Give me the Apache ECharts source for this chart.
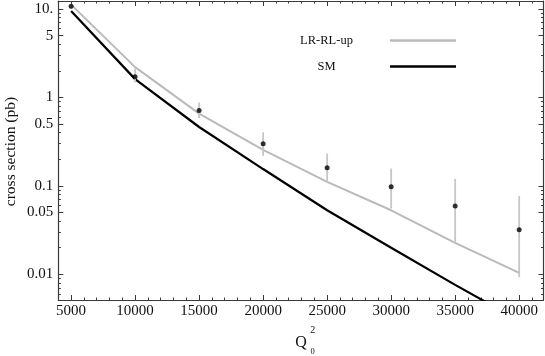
<!DOCTYPE html>
<html>
<head>
<meta charset="utf-8">
<script src="https://cdn.jsdelivr.net/npm/echarts@6/dist/echarts.min.js"></script>
<style>
html,body{margin:0;padding:0;background:#fff;}
#chart{width:545px;height:356px;}
</style>
</head>
<body>
<div id="chart"></div>
<script>
// ---- data ----
const q2Values = [5000, 10000, 15000, 20000, 25000, 30000, 35000, 40000];
const lrRlUp = [11.2, 2.2, 0.655, 0.256, 0.111, 0.053, 0.0227, 0.0104];
const smValues = [9.5, 1.61, 0.463, 0.155, 0.053, 0.020, 0.0076, 0.0030];
const dataCentral = [10.7, 1.71, 0.713, 0.30, 0.160, 0.0975, 0.0594, 0.0319];
const errHigh = [11.4, 2.12, 0.878, 0.403, 0.232, 0.157, 0.12, 0.077];
const errLow = [10.0, 1.48, 0.585, 0.219, 0.111, 0.0556, 0.0227, 0.0093];
const xTickValues = [5000, 10000, 15000, 20000, 25000, 30000, 35000, 40000];
const xMinorTickValues = [4000,6000,7000,8000,9000,11000,12000,13000,14000,16000,17000,18000,19000,21000,22000,23000,24000,26000,27000,28000,29000,31000,32000,33000,34000,36000,37000,38000,39000,41000];
const yTickValues = [10, 5, 1, 0.5, 0.1, 0.05, 0.01];
const yTickLabels = ['10.', '5', '1', '0.5', '0.1', '0.05', '0.01'];
const yMinorTickValues = [0.006,0.007,0.008,0.009,0.02,0.03,0.04,0.06,0.07,0.08,0.09,0.2,0.3,0.4,0.6,0.7,0.8,0.9,2,3,4,6,7,8,9];

const X_MIN = 4000, X_MAX = 41900, Y_MIN = 0.00513, Y_MAX = 12.3;
const FONT = '"Liberation Serif", "DejaVu Serif", serif';
const AXIS_COLOR = '#3a3a3a';

function xAxisDef(pos, major, showLine, showLabel) {
  return {
    type: 'value', position: pos, min: X_MIN, max: X_MAX,
    axisLine: { show: showLine, onZero: false, lineStyle: { color: AXIS_COLOR, width: 1.2 } },
    axisTick: { show: true, inside: true, length: major ? 5 : 2.5,
      customValues: major ? xTickValues : xMinorTickValues,
      lineStyle: { color: AXIS_COLOR, width: 1 } },
    axisLabel: { show: showLabel, customValues: xTickValues, margin: 4,
      fontFamily: FONT, fontSize: 15, color: '#111',
      formatter: function (v) { return String(Math.round(v)); } },
    splitLine: { show: false }
  };
}
function yAxisDef(pos, major, showLine, showLabel) {
  return {
    type: 'log', logBase: 10, position: pos, min: Y_MIN, max: Y_MAX,
    axisLine: { show: showLine, onZero: false, lineStyle: { color: AXIS_COLOR, width: 1.2 } },
    axisTick: { show: true, inside: true, length: major ? 5 : 2.5,
      customValues: major ? yTickValues : yMinorTickValues,
      lineStyle: { color: AXIS_COLOR, width: 1 } },
    axisLabel: { show: showLabel, customValues: yTickValues, margin: 5,
      fontFamily: FONT, fontSize: 15, color: '#111',
      formatter: function (v) {
        for (let i = 0; i < yTickValues.length; i++) {
          if (Math.abs(v - yTickValues[i]) / yTickValues[i] < 1e-6) return yTickLabels[i];
        }
        return '';
      } },
    splitLine: { show: false }
  };
}

const chart = echarts.init(document.getElementById('chart'), null, { renderer: 'canvas' });
const option = {
  animation: false,
  backgroundColor: '#fff',
  grid: { left: 58.3, right: 1.5, top: 1, bottom: 56 },
  xAxis: [
    xAxisDef('bottom', true, true, true),
    xAxisDef('bottom', false, false, false),
    xAxisDef('top', true, true, false),
    xAxisDef('top', false, false, false)
  ],
  yAxis: [
    yAxisDef('left', true, true, true),
    yAxisDef('left', false, false, false),
    yAxisDef('right', true, true, false),
    yAxisDef('right', false, false, false)
  ],
  legend: {
    orient: 'vertical', left: 268, top: 34, padding: 0, align: 'right',
    itemWidth: 66, itemHeight: 2.4, itemGap: 13,
    formatter: '{a|{name}}',
    textStyle: { rich: { a: { width: 117, align: 'center', fontFamily: FONT, fontSize: 12.5, lineHeight: 14, color: '#111' } } },
    data: [{ name: 'LR-RL-up', icon: 'rect' }, { name: 'SM', icon: 'rect' }]
  },
  graphic: [
    { type: 'text', x: 10.5, y: 151.5, rotation: Math.PI / 2,
      style: { text: 'cross section (pb)', font: '15.5px ' + FONT, fill: '#111', textAlign: 'center', textVerticalAlign: 'middle' } },
    { type: 'text', x: 301, y: 342.5,
      style: { text: 'Q', font: '16px ' + FONT, fill: '#111', textAlign: 'center', textVerticalAlign: 'middle' } },
    { type: 'text', x: 312.7, y: 330.5,
      style: { text: '2', font: '10px ' + FONT, fill: '#111', textAlign: 'center', textVerticalAlign: 'middle' } },
    { type: 'text', x: 312.7, y: 351.5,
      style: { text: '0', font: '8.5px ' + FONT, fill: '#111', textAlign: 'center', textVerticalAlign: 'middle' } }
  ],
  series: [
    {
      name: 'LR-RL-up', type: 'line', xAxisIndex: 0, yAxisIndex: 0,
      data: q2Values.map((x, i) => [x, lrRlUp[i]]),
      showSymbol: false, symbol: 'none',
      itemStyle: { color: '#bababa' },
      lineStyle: { color: '#bababa', width: 2 }, z: 2
    },
    {
      name: 'SM', type: 'line', xAxisIndex: 0, yAxisIndex: 0,
      data: q2Values.map((x, i) => [x, smValues[i]]),
      showSymbol: false, symbol: 'none',
      itemStyle: { color: '#000' },
      lineStyle: { color: '#000', width: 2.2 }, z: 2
    },
    {
      name: 'errors', type: 'custom', xAxisIndex: 0, yAxisIndex: 0,
      data: q2Values.map((x, i) => [x, errLow[i], errHigh[i]]),
      renderItem: function (params, api) {
        const p1 = api.coord([api.value(0), api.value(1)]);
        const p2 = api.coord([api.value(0), api.value(2)]);
        return { type: 'line', shape: { x1: p1[0], y1: p1[1], x2: p2[0], y2: p2[1] },
          style: { stroke: '#c6c6c6', lineWidth: 1.8 } };
      },
      z: 3
    },
    {
      name: 'data', type: 'scatter', xAxisIndex: 0, yAxisIndex: 0,
      data: q2Values.map((x, i) => [x, dataCentral[i]]),
      symbol: 'circle', symbolSize: 5,
      itemStyle: { color: '#000' }, z: 4
    }
  ]
};
chart.setOption(option);
</script>
</body>
</html>
